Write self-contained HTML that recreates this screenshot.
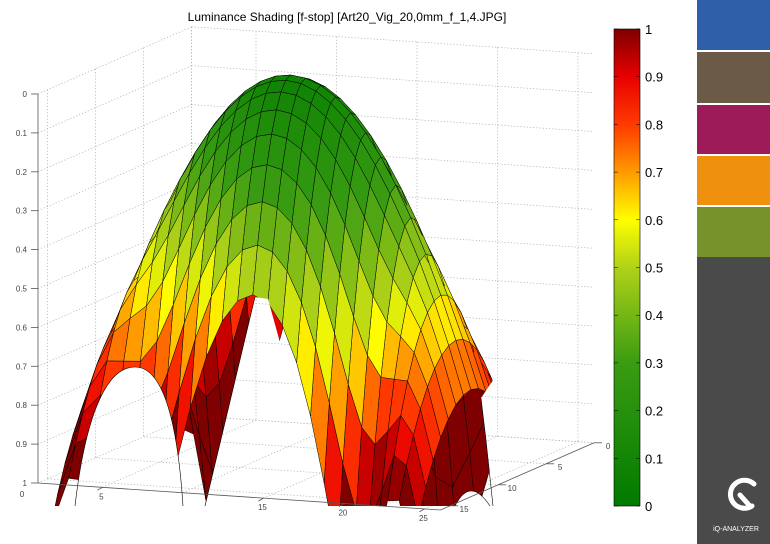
<!DOCTYPE html>
<html><head><meta charset="utf-8"><style>
html,body{margin:0;padding:0;background:#fff;width:770px;height:544px;overflow:hidden;}
body{position:relative;font-family:"Liberation Sans",sans-serif;}
</style></head><body>
<svg id="s" width="770" height="544" xmlns="http://www.w3.org/2000/svg" style="position:absolute;left:0;top:0;overflow:hidden">
<defs>
<clipPath id="cp"><rect x="0" y="0" width="605" height="506"/></clipPath>
<clipPath id="ov"><path d="M75,506 C85,420 105,367 135,367 C165,367 178,430 183,506 Z M255,297 L268,299 L300,415 L300,506 L205,506 Z M493,506 L486,440 L481,398 L500,370 L600,370 L600,506 Z M455,506 Q470,476 490,506 Z"/></clipPath>
<linearGradient id="cb" x1="0" y1="1" x2="0" y2="0">
<stop offset="0" stop-color="#007a00"/>
<stop offset="0.3" stop-color="#3a9c12"/>
<stop offset="0.5" stop-color="#b0d218"/>
<stop offset="0.6" stop-color="#ffff00"/>
<stop offset="0.7" stop-color="#ff9a00"/>
<stop offset="0.8" stop-color="#ff3a00"/>
<stop offset="0.9" stop-color="#e80000"/>
<stop offset="1" stop-color="#7e0000"/>
</linearGradient>
</defs>
<g id="grid"></g>
<g id="surf" clip-path="url(#cp)"></g>
<path d="M75,506 C85,420 105,367 135,367 C165,367 178,430 183,506 Z M255,297 L268,299 L300,415 L300,506 L205,506 Z M493,506 L486,440 L481,398 L500,370 L600,370 L600,506 Z M455,506 Q470,476 490,506 Z" fill="#fff"/>
<g id="grid2" clip-path="url(#ov)"></g>
<path d="M75,506 C85,420 105,367 135,367 C165,367 178,430 183,506 M255,297 L205,506 M493,506 L486,440 L481,398 M455,506 Q470,476 490,506" fill="none" stroke="#000" stroke-width="0.6"/>
<g id="ax"></g>
<text x="347" y="21" font-size="12" text-anchor="middle" fill="#000">Luminance Shading [f-stop] [Art20_Vig_20,0mm_f_1,4.JPG]</text>
<rect x="614" y="29" width="26" height="477" fill="url(#cb)" stroke="#000" stroke-width="0.6"/>
<g id="cbt"></g>
<rect x="697" y="0" width="73" height="50" fill="#2f5fa8"/>
<rect x="697" y="52" width="73" height="51" fill="#6b5a45"/>
<rect x="697" y="105" width="73" height="49" fill="#9e1b5a"/>
<rect x="697" y="156" width="73" height="49" fill="#f0900f"/>
<rect x="697" y="207" width="73" height="50" fill="#77922b"/>
<rect x="697" y="257" width="73" height="287" fill="#4a4a4a"/>
<path d="M 752 506 A 14 14 0 1 1 754 484" fill="none" stroke="#fff" stroke-width="5" stroke-linecap="round"/>
<line x1="740" y1="495" x2="749" y2="505" stroke="#fff" stroke-width="5" stroke-linecap="round"/>
<text x="736" y="531" font-size="7" fill="#fff" text-anchor="middle">iQ-ANALYZER</text>
</svg>
<script>
var NS="http://www.w3.org/2000/svg";
function el(p,t,a,txt){var e=document.createElementNS(NS,t);for(var k in a)e.setAttribute(k,a[k]);if(txt!==undefined)e.textContent=txt;p.appendChild(e);return e;}
function P(x,y,v){return [38+(x-1)*16.1+(16-y)*9.6, 94+v*389+(x-1)*1.08-(16-y)*4.2];}
var G=document.getElementById('grid'),G2=document.getElementById('grid2'),A=document.getElementById('ax'),S=document.getElementById('surf');
function ln(g,a,b,st){var o={x1:a[0].toFixed(1),y1:a[1].toFixed(1),x2:b[0].toFixed(1),y2:b[1].toFixed(1),stroke:st.c||'#000','stroke-width':st.w||0.6};if(st.d)o['stroke-dasharray']=st.d;el(g,'line',o);}
var dot={c:'#aaa',w:0.7,d:'1.2,2'};
[G,G2].forEach(function(g){
for(var i=0;i<=10;i++){var z=i/10;
 ln(g,P(1,16,z),P(1,0,z),dot); ln(g,P(1,0,z),P(26,0,z),dot);}
[5,10,15,20,25].forEach(function(x){ln(g,P(x,0,0),P(x,0,1),dot);ln(g,P(x,0,1),P(x,16,1),dot);});
[0,5,10,15].forEach(function(y){ln(g,P(1,y,0),P(1,y,1),dot);ln(g,P(1,y,1),P(26,y,1),dot);});
ln(g,P(1,0,0),P(1,0,1),dot);});
var ax={c:'#555',w:0.8};
ln(A,P(1,16,0),P(1,16,1),ax);ln(A,P(1,16,1),P(26,16,1),ax);ln(A,P(26,16,1),P(26,0,1),ax);
for(var i=0;i<=10;i++){var z=i/10,p=P(1,16,z);ln(A,p,[p[0]-7,p[1]],ax);
 el(A,'text',{x:p[0]-11,y:p[1]+3,'font-size':8,'text-anchor':'end',fill:'#444'},i==10?'1':(i==0?'0':(z.toFixed(1))));}
el(A,'text',{x:22,y:497,'font-size':8,'text-anchor':'middle',fill:'#444'},'0');
[5,15,20,25].forEach(function(x){var p=P(x,16,1);ln(A,p,[p[0]-5,p[1]+3],ax);
 el(A,'text',{x:p[0]-1,y:p[1]+12,'font-size':8,'text-anchor':'middle',fill:'#444'},String(x));});
[0,5,10,15].forEach(function(y){var p=P(26,y,1);ln(A,p,[p[0]+8,p[1]],ax);
 el(A,'text',{x:p[0]+14,y:p[1]+6,'font-size':8,'text-anchor':'middle',fill:'#444'},String(y));});
var st=[[0,0,122,0],[0.3,58,156,18],[0.5,176,210,24],[0.6,255,255,0],[0.7,255,154,0],[0.8,255,58,0],[0.9,232,0,0],[1,126,0,0]];
function cm(v){v=Math.max(0,Math.min(1,v));for(var i=1;i<st.length;i++){if(v<=st[i][0]){var a=st[i-1],b=st[i],t=(v-a[0])/(b[0]-a[0]);
 return 'rgb('+Math.round(a[1]+t*(b[1]-a[1]))+','+Math.round(a[2]+t*(b[2]-a[2]))+','+Math.round(a[3]+t*(b[3]-a[3]))+')';}}return 'rgb(126,0,0)';}
var XC=12.26,YC=8.58;
function V(x,y){var dx=x-XC,dy=y-YC;var B=0.009+0.025*(1+0.6*(dx/5)*(dx/5))*Math.exp(-Math.pow(dx/8,6));return 0.0062*dx*dx+B*dy*dy;}
function H(x){var d=(x-XC)/11.2;return 3.92*(1+0.6*d*d);}
var x0=1.06,x1=23.46,nx=24,ny=16,quads=[];
for(var i=0;i<nx;i++)for(var j=0;j<ny;j++){
 var xa=x0+(x1-x0)*i/nx,xb=x0+(x1-x0)*(i+1)/nx,sa=-1+2*j/ny,sb=-1+2*(j+1)/ny;
 var pts=[[xa,YC+sa*H(xa)],[xb,YC+sa*H(xb)],[xb,YC+sb*H(xb)],[xa,YC+sb*H(xa)]],vs=pts.map(function(q){return V(q[0],q[1]);});
 var vm=(vs[0]+vs[1]+vs[2]+vs[3])/4,xm=(xa+xb)/2,ym=(pts[0][1]+pts[2][1])/2;
 if(Math.min.apply(null,vs)>1.3)continue;
 var near=1.732*(1.08*xm+4.2*ym)-0.577*389*vm;
 var sp=pts.map(function(q,k){var p=P(q[0],q[1],vs[k]);return p[0].toFixed(1)+','+Math.min(p[1],560).toFixed(1);}).join(' ');
 quads.push([near,sp,cm(0.08+vs[0])]);}
quads.sort(function(a,b){return a[0]-b[0];});
quads.forEach(function(q){el(S,'polygon',{points:q[1],fill:q[2],stroke:'#000','stroke-width':0.5,'stroke-linejoin':'round'});});
var C=document.getElementById('cbt');
for(var i=0;i<=10;i++){var y=506-i*47.7;
 el(C,'line',{x1:614,y1:y,x2:618,y2:y,stroke:'#000','stroke-width':0.5});
 el(C,'line',{x1:636,y1:y,x2:640,y2:y,stroke:'#000','stroke-width':0.5});
 el(C,'text',{x:645,y:y+5,'font-size':13,fill:'#000'},i==10?'1':(i==0?'0':(i/10).toFixed(1)));}
</script>
</body></html>
